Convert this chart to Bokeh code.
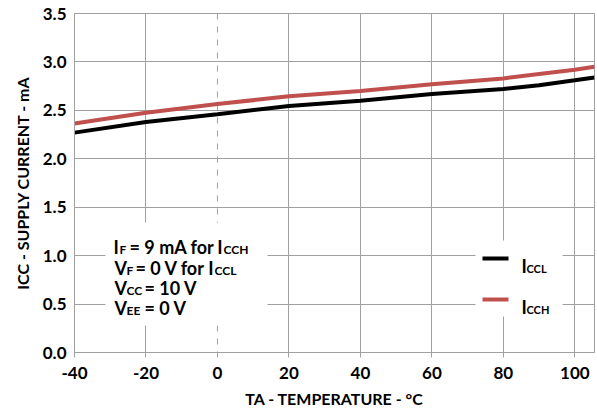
from bokeh.plotting import figure
from bokeh.models import (Range1d, FixedTicker, Span, BoxAnnotation, Label,
                          NumeralTickFormatter)
from bokeh.embed import file_html
from bokeh.resources import INLINE

# ---- data ----
temps = [-40, -20, 0, 20, 40, 60, 80, 90, 100, 105.5]
iccl = [2.27, 2.38, 2.46, 2.545, 2.60, 2.67, 2.72, 2.76, 2.81, 2.84]
icch = [2.365, 2.475, 2.565, 2.645, 2.70, 2.77, 2.83, 2.875, 2.92, 2.95]
x_ticks = [-40, -20, 0, 20, 40, 60, 80, 100]
x_grid = [-20, 20, 40, 60, 80, 100]
y_ticks = [0.0, 0.5, 1.0, 1.5, 2.0, 2.5, 3.0, 3.5]
X0, X1, Y0, Y1 = -40, 105.5, 0, 3.5

FONT = "Lato"
GRID = "#a0a0a0"
RED = "#c0504d"

W, H = 596, 411
FL, FR, FT, FB = 74, 594, 13, 352   # frame edges in page pixels

p = figure(width=W, height=H, x_range=Range1d(X0, X1), y_range=Range1d(Y0, Y1),
           output_backend="svg", toolbar_location=None,
           min_border_left=FL, min_border_right=W - FR, min_border_top=FT,
           min_border_bottom=H - FB)


def dx(px):  # page pixel -> data x (annotation placement only)
    return X0 + (px - FL) * (X1 - X0) / (FR - FL)


def dy(py):
    return Y0 + (FB - py) * (Y1 - Y0) / (FB - FT)


p.outline_line_color = GRID
p.outline_line_width = 1

for ax in (p.xaxis[0], p.yaxis[0]):
    ax.axis_line_color = GRID
    ax.major_tick_line_color = GRID
    ax.minor_tick_line_color = None
    ax.major_label_text_font = FONT
    ax.major_label_text_font_style = "bold"
    ax.major_label_text_font_size = "17px"
    ax.major_label_text_color = "black"
    ax.axis_label_text_font = FONT
    ax.axis_label_text_font_style = "bold"
    ax.axis_label_text_color = "black"
    ax.axis_label_text_font_size = "16px"

p.xaxis.ticker = FixedTicker(ticks=x_ticks)
p.xaxis.formatter = NumeralTickFormatter(format="0")
p.xaxis.major_tick_out = 5
p.xaxis.major_tick_in = 0
p.xaxis.major_label_standoff = 9
p.xaxis.axis_label = "TA - TEMPERATURE - °C"
p.xaxis.axis_label_standoff = 7

p.yaxis.ticker = FixedTicker(ticks=y_ticks)
p.yaxis.formatter = NumeralTickFormatter(format="0.0")
p.yaxis.major_tick_out = 0
p.yaxis.major_tick_in = 0
p.yaxis.major_label_standoff = 8
p.yaxis.axis_label = "ICC - SUPPLY CURRENT - mA"
p.yaxis.axis_label_standoff = 8

p.xgrid.ticker = FixedTicker(ticks=x_grid)
p.xgrid.grid_line_color = GRID
p.ygrid.ticker = FixedTicker(ticks=y_ticks[1:-1])
p.ygrid.grid_line_color = GRID

p.add_layout(Span(location=0, dimension="height", line_color=GRID, line_width=1,
                  line_dash="6 7", level="underlay"))

p.line(temps, iccl, line_color="black", line_width=4)
p.line(temps, icch, line_color=RED, line_width=4)


def box(l, r, t, b, color="white"):
    p.add_layout(BoxAnnotation(left=dx(l), right=dx(r), top=dy(t), bottom=dy(b),
                               fill_color=color, fill_alpha=1, line_color=None,
                               level="annotation"))


def lab(px, py, t, size, align="left"):
    p.add_layout(Label(x=dx(px), y=dy(py), text=t,
                       text_font=FONT, text_font_style="bold", text_font_size=size,
                       text_color="black", text_align=align, text_baseline="alphabetic"))


# white backgrounds behind the conditions text and the legend
box(105, 267, 222, 325)
box(475, 562, 240, 316)

MAIN = "18px"
SUB = "12px"
# IF = 9 mA for ICCH
lab(113, 246, "I", MAIN)
lab(119, 248.5, "F", SUB)
lab(129, 246, "= 9 mA for", MAIN)
lab(222, 246, "I", MAIN, "right")
lab(223, 248.5, "CCH", SUB)
# VF = 0 V for ICCL
lab(114, 267, "V", MAIN)
lab(126, 269.5, "F", SUB)
lab(135, 267, "= 0 V for", MAIN)
lab(213, 267, "I", MAIN, "right")
lab(214, 269.5, "CCL", SUB)
# VCC = 10 V
lab(114, 287, "V", MAIN)
lab(126, 289.5, "CC", SUB)
lab(144, 287, "= 10 V", MAIN)
# VEE = 0 V
lab(114, 307, "V", MAIN)
lab(126, 309.5, "EE", SUB)
lab(144, 307, "= 0 V", MAIN)

# legend: swatches and labels
box(482, 508, 256, 260, "black")
box(482, 508, 297, 301, RED)
lab(521, 265, "I", MAIN)
lab(526, 267.5, "CCL", "11px")
lab(521, 306, "I", MAIN)
lab(526, 308.5, "CCH", "11px")

open("out.html", "w").write(file_html(p, INLINE))
